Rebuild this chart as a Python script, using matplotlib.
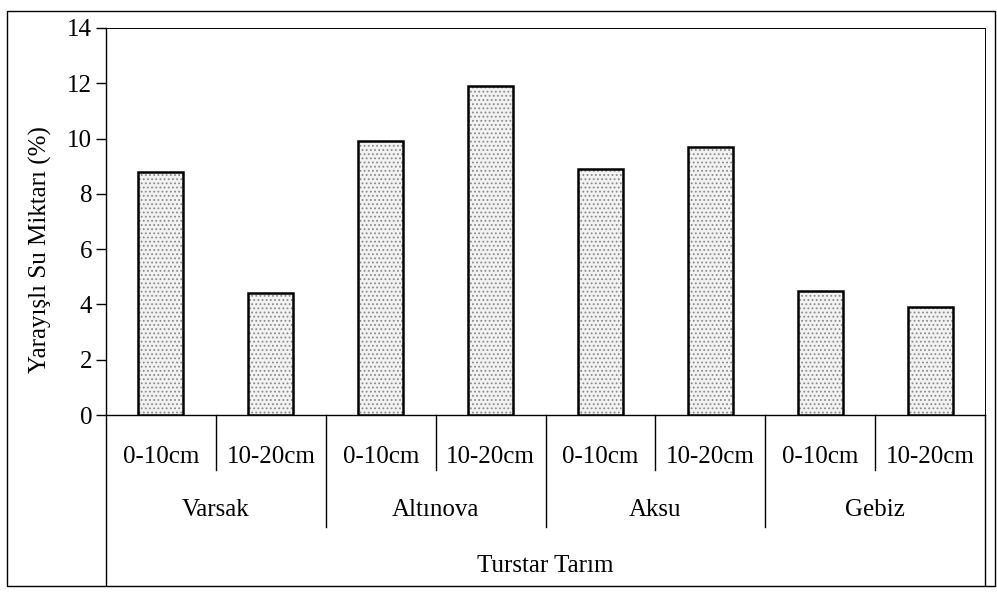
import numpy as np
import matplotlib.pyplot as plt
from matplotlib.patches import Rectangle

plt.rcParams['font.family'] = ['Liberation Serif', 'DejaVu Serif']
plt.rcParams['hatch.linewidth'] = 0.8

# Datos
lugares = ["Varsak", "Altınova", "Aksu", "Gebiz"]
profundidades = ["0-10cm", "10-20cm"]
valores = [8.8, 4.4, 9.9, 11.9, 8.9, 9.7, 4.5, 3.9]
yticks = [0, 2, 4, 6, 8, 10, 12, 14]
titulo_x = "Turstar Tarım"
titulo_y = "Yarayışlı Su Miktarı (%)"

fig = plt.figure(figsize=(9.97, 5.92), dpi=100)
W, H = 997, 592
# area del grafico en pixeles (izq, arriba, der, abajo)
L, T, R, B = 106, 28, 985, 415
ax = fig.add_axes([L / W, 1 - B / H, (R - L) / W, (B - T) / H])

x = np.arange(len(valores))
# relleno punteado (tipo escaneo) + borde negro
ax.bar(x, valores, width=0.41, color="#f2f2f2", edgecolor="#8a8a8a", hatch="....", linewidth=0, zorder=3)
ax.bar(x, valores, width=0.41, fill=False, edgecolor="black", linewidth=1.8, zorder=4)

ax.set_xlim(-0.5, len(valores) - 0.5)
ax.set_ylim(0, 14)
ax.set_yticks(yticks)
ax.tick_params(axis="y", direction="out", length=7, width=1, labelsize=18, pad=3)
ax.set_xticks([])
for s in ["top", "right"]:
    ax.spines[s].set_linewidth(0.7)
ax.spines["left"].set_linewidth(1.0)
ax.spines["bottom"].set_linewidth(1.0)

# Eje de categorias de dos niveles
tr = ax.get_xaxis_transform()
def ypx(py):
    return (B - py) / (B - T)

for i, v in enumerate(x):
    ax.text(v, ypx(457), profundidades[i % 2], transform=tr, ha="center", va="center", fontsize=18)
for g, nombre in enumerate(lugares):
    ax.text(2 * g + 0.5, ypx(510), nombre, transform=tr, ha="center", va="center", fontsize=18)
ax.text((len(valores) - 1) / 2, ypx(566), titulo_x, transform=tr, ha="center", va="center", fontsize=18)

for k in range(len(valores) + 1):
    xs = k - 0.5
    if k == 0 or k == len(valores):
        fin = 585
    elif k % 2 == 1:
        fin = 470
    else:
        fin = 527
    ax.plot([xs, xs], [0, ypx(fin)], transform=tr, color="black", lw=1.0, clip_on=False)

fig.text(40 / W, 1 - 250 / H, titulo_y, rotation=90, ha="center", va="center", fontsize=18)

# Marco exterior
fig.add_artist(Rectangle((7 / W, 1 - 586 / H), (995 - 7) / W, (586 - 11) / H,
                         transform=fig.transFigure, fill=False, edgecolor="black", lw=1.0))

plt.savefig("out.png", dpi=100)
plt.close()
